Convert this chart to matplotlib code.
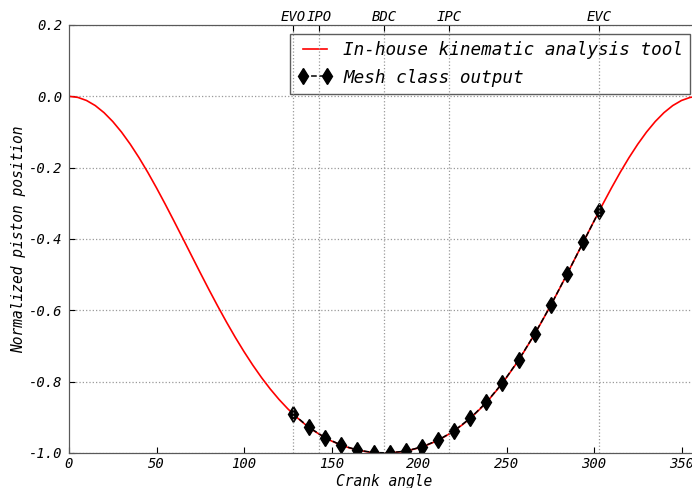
import matplotlib
matplotlib.use("Agg")
import matplotlib.pyplot as plt

# red curve, read every 5 degrees
angle = [0, 5, 10, 15, 20, 25, 30, 35, 40, 45, 50, 55, 60, 65, 70, 75, 80, 85, 90,
         95, 100, 105, 110, 115, 120, 125, 130, 135, 140, 145, 150, 155, 160, 165, 170, 175, 180,
         185, 190, 195, 200, 205, 210, 215, 220, 225, 230, 235, 240, 245, 250, 255, 260, 265, 270,
         275, 280, 285, 290, 295, 300, 305, 310, 315, 320, 325, 330, 335, 340, 345, 350, 355, 360]
position = [0.0, -0.0029, -0.0116, -0.0259, -0.0457, -0.0706, -0.1002, -0.1342, -0.1719, -0.2129,
            -0.2567, -0.3025, -0.3498, -0.3979, -0.4464, -0.4947, -0.5422, -0.5884, -0.633,
            -0.6756, -0.7158, -0.7535, -0.7885, -0.8206, -0.8498, -0.876, -0.8994, -0.9201, -0.938,
            -0.9533, -0.9663, -0.9769, -0.9854, -0.9919, -0.9964, -0.9991, -1.0,
            -0.9991, -0.9964, -0.9919, -0.9854, -0.9769, -0.9663, -0.9533, -0.938, -0.9201,
            -0.8994, -0.876, -0.8498, -0.8206, -0.7885, -0.7535, -0.7158, -0.6756, -0.633,
            -0.5884, -0.5422, -0.4947, -0.4464, -0.3979, -0.3498, -0.3025, -0.2567, -0.2129,
            -0.1719, -0.1342, -0.1002, -0.0706, -0.0457, -0.0259, -0.0116, -0.0029, 0.0]

# mesh output points
mesh_angle = [128.0, 137.2, 146.4, 155.6, 164.8, 174.1, 183.3, 192.5, 201.7, 210.9,
              220.1, 229.3, 238.5, 247.7, 257.0, 266.2, 275.4, 284.6, 293.8, 303.0]
mesh_position = [-0.8904, -0.9283, -0.9572, -0.978, -0.9917, -0.9988, -0.9996, -0.9944, -0.9828, -0.9641,
                 -0.9376, -0.9025, -0.8579, -0.8036, -0.7388, -0.6656, -0.5848, -0.4985, -0.4096, -0.3212]

# port events on top axis
event_angle = [128, 143, 180, 217, 303]
event_label = ["EVO", "IPO", "BDC", "IPC", "EVC"]

plt.rcParams["font.family"] = "DejaVu Sans Mono"
plt.rcParams["font.style"] = "italic"

fig = plt.figure(figsize=(6.92, 4.88), dpi=100)
ax = fig.add_axes([69/692, 35/488, 630/692, 428/488])

ax.plot(angle, position, "r-", lw=1.2, label="In-house kinematic analysis tool")
ax.plot(mesh_angle, mesh_position, "kd--", ms=8, lw=1.1, label="Mesh class output")

ax.set_xlim(0, 360)
ax.set_ylim(-1.0, 0.2)
ax.set_xticks(range(0, 400, 50))
ax.set_yticks([-1.0, -0.8, -0.6, -0.4, -0.2, 0.0, 0.2])
ax.yaxis.set_major_formatter(matplotlib.ticker.FormatStrFormatter("%.1f"))
ax.tick_params(direction="in", labelsize=10, length=4, pad=5, right=False)
ax.tick_params(axis="x", pad=3)
ax.grid(axis="y", color="0.6", ls=":", lw=0.9)
ax.set_xlabel("Crank angle", fontsize=10.5, labelpad=2)
ax.set_ylabel("Normalized piston position", fontsize=10.5, labelpad=2)
for s in ax.spines.values():
    s.set_color("0.35")

top = ax.twiny()
top.set_xlim(ax.get_xlim())
top.set_xticks(event_angle)
top.set_xticklabels(event_label)
top.tick_params(direction="in", labelsize=10, length=4, pad=1)
top.grid(axis="x", color="0.6", ls=":", lw=0.9)
for s in top.spines.values():
    s.set_color("0.35")

leg = ax.legend(loc="upper right", fontsize=12.7, numpoints=2, fancybox=False,
                handlelength=2.0, handletextpad=0.6, borderpad=0.4, labelspacing=0.55,
                borderaxespad=0.5)
leg.get_frame().set_edgecolor("0.2")
leg.set_zorder(5)

fig.savefig("out.png", dpi=100)
